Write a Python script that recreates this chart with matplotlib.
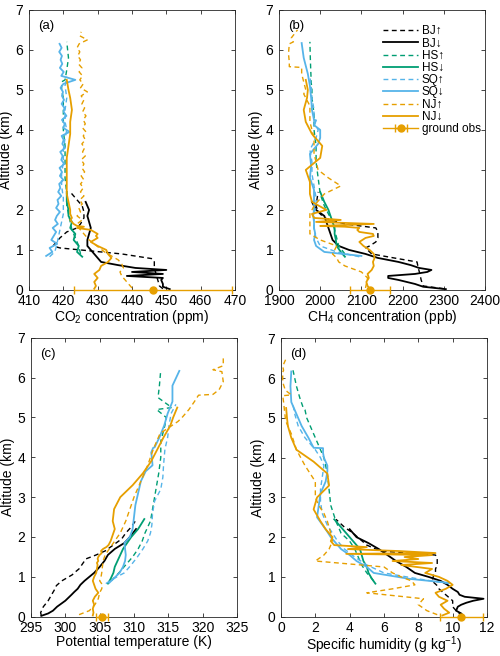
import matplotlib
matplotlib.use("Agg")
from matplotlib import pyplot as plt
import numpy as np

plt.rcParams['font.family'] = ['Liberation Sans', 'DejaVu Sans']
plt.rcParams['mathtext.fontset'] = 'custom'
plt.rcParams['mathtext.rm'] = 'Liberation Sans'
plt.rcParams['mathtext.it'] = 'Liberation Sans:italic'

# ---------------- profiles (altitude in km) ----------------
# BJ ascent (dashed black)
bj_up_alt = [0.03, 0.1, 0.25, 0.4, 0.55, 0.7, 0.78, 0.9, 1.05, 1.1, 1.2, 1.3, 1.45, 1.55, 1.65, 1.8, 1.95, 2.1, 2.25, 2.45]
bj_up_co2 = [449, 448, 447.5, 447, 446.5, 446.5, 446, 437, 419, 417, 418, 419, 421, 424, 425, 426, 426, 425.5, 424, 422]
bj_up_ch4 = [2300, 2250, 2245, 2242, 2238, 2235, 2190, 2125, 2110, 2120, 2135, 2140, 2140, 2135, 2060, 2010, 1995, 1990, 1992, 1995]
bj_up_th = [296.5, 296.4, 296.8, 297.5, 298.0, 298.5, 298.7, 299.5, 301, 301.3, 302, 302.4, 303, 304.5, 305.8, 307, 308.2, 308.8, 309.6, 310.4]
bj_up_q = [10.6, 10.3, 10.0, 10.0, 9.6, 9.2, 9.1, 8.8, 8.9, 9.0, 9.0, 9.1, 9.1, 9.0, 5.8, 5.0, 4.6, 4.2, 3.7, 3.2]

# BJ descent (solid black)
bj_dn_alt = [0.02, 0.08, 0.15, 0.25, 0.3, 0.35, 0.4, 0.45, 0.5, 0.55, 0.62, 0.7, 0.8, 0.9, 1.0, 1.1, 1.25, 1.4, 1.55, 1.7, 1.85, 2.0, 2.2]
bj_dn_co2 = [451, 449, 449, 448.5, 449, 438.5, 449, 440, 450, 441, 436, 431, 430, 429, 428, 427, 427, 427.5, 428, 427.5, 427, 427.5, 426.5]
bj_dn_ch4 = [2305, 2250, 2230, 2190, 2165, 2165, 2230, 2260, 2270, 2240, 2220, 2190, 2140, 2110, 2070, 2045, 2030, 2025, 2020, 2015, 2010, 1990, 1980]
bj_dn_th = [296.5, 297.5, 298.2, 298.8, 299.2, 299.6, 300, 300.3, 300.6, 300.9, 301.3, 301.8, 302.2, 302.8, 303.5, 304.2, 305, 305.7, 306.2, 307.2, 308.6, 309.4, 310.3]
bj_dn_q = [10.6, 10.5, 10.2, 10.3, 10.5, 10.8, 11.2, 11.8, 10.7, 10.4, 10.3, 10.0, 9.7, 9.3, 8.6, 7.8, 7.3, 6.7, 6.2, 5.7, 5.1, 4.4, 4.0]

# HS ascent (dashed green)
hs_up_alt = [0.9, 1.1, 1.3, 1.5, 1.7, 1.9, 2.1, 2.4, 2.8, 3.2, 3.6, 4.0, 4.4, 4.8, 5.0, 5.2, 5.25, 5.5, 5.8, 6.2]
hs_up_co2 = [425, 424.5, 423.5, 422.5, 422, 421.5, 421, 421, 420.5, 420.5, 420.5, 420, 420, 420, 419.5, 419.5, 420.5, 421, 421.5, 421]
hs_up_ch4 = [2060, 2045, 2040, 2035, 2030, 2020, 2010, 2000, 1995, 1990, 1990, 1985, 1985, 1980, 1980, 1978, 1978, 1977, 1976, 1975]
hs_up_th = [306.7, 307.8, 308.8, 309.8, 310.6, 311.2, 311.6, 312.4, 312.8, 313.2, 313.6, 313.9, 313.9, 314.5, 314.7, 313.3, 315.5, 313.5, 313.7, 313.9]
hs_up_q = [5.4, 5.0, 4.7, 4.5, 4.3, 4.0, 3.5, 3.2, 2.9, 2.8, 2.7, 2.5, 2.1, 1.7, 1.5, 1.4, 1.3, 1.1, 0.9, 0.7]

# HS descent (solid green)
hs_dn_alt = [0.83, 0.95, 1.1, 1.25, 1.4, 1.55, 1.7, 1.85, 2.0, 2.2, 2.45]
hs_dn_co2 = [425.5, 424, 424.5, 423, 423.5, 422, 422.5, 421.5, 421.5, 421, 421]
hs_dn_ch4 = [2060, 2050, 2040, 2038, 2035, 2035, 2030, 2025, 2020, 2010, 2000]
hs_dn_th = [306.2, 306.6, 307.0, 307.2, 307.6, 308.0, 308.4, 309.0, 309.6, 310.6, 311.5]
hs_dn_q = [5.5, 5.3, 5.1, 5.0, 4.8, 4.7, 4.6, 4.3, 4.0, 3.6, 3.1]

# SQ ascent (dashed blue)
sq_up_alt = [0.83, 0.95, 1.1, 1.3, 1.5, 1.7, 1.9, 2.1, 2.3, 2.6, 2.9, 3.2, 3.5, 3.8, 4.0, 4.2, 4.5, 4.8, 5.1, 5.33]
sq_up_co2 = [416, 417.5, 418, 418.5, 419, 419.5, 420, 420, 420, 419.5, 419.5, 420, 420, 420.5, 421, 420.5, 420.5, 421, 420.5, 421]
sq_up_ch4 = [2095, 2040, 2000, 1990, 1985, 1985, 1985, 1990, 1990, 1985, 1980, 1980, 1975, 1990, 1995, 1985, 1985, 1980, 1978, 1975]
sq_up_th = [305.9, 307.0, 308.6, 309.6, 310.5, 311.3, 312.0, 312.4, 312.6, 312.7, 313.0, 313.9, 314.2, 314.3, 314.4, 314.5, 314.9, 315.1, 315.4, 316.1]
sq_up_q = [9.8, 8.0, 6.0, 5.0, 4.3, 3.7, 3.3, 3.0, 2.7, 2.4, 2.3, 2.3, 2.4, 2.5, 2.3, 2.0, 1.4, 1.0, 0.8, 0.7]

# SQ descent (solid blue)
sq_dn_alt = [0.85, 0.95, 1.1, 1.25, 1.4, 1.55, 1.7, 1.85, 2.0, 2.2, 2.5, 2.8, 3.1, 3.4, 3.65, 3.8, 4.0, 4.12, 4.24, 4.25, 4.5, 4.8, 5.1, 5.4, 5.8, 6.17]
sq_dn_ch4 = [2100, 2010, 1990, 1985, 1988, 1985, 1985, 1983, 1985, 1985, 1985, 1975, 1978, 1975, 1995, 2000, 2000, 1985, 1990, 1985, 1980, 1978, 1975, 1970, 1960, 1955]
sq_dn_th = [306.4, 307.0, 307.9, 308.4, 308.7, 308.8, 308.7, 308.6, 309.4, 309.8, 310.0, 310.2, 310.6, 311.0, 311.7, 312.7, 312.6, 312.5, 312.8, 313.0, 313.7, 314.4, 314.9, 315.6, 315.6, 316.6]
sq_dn_q = [9.8, 7.5, 5.4, 5.0, 4.4, 4.0, 3.5, 3.2, 2.9, 2.6, 2.1, 2.2, 2.3, 2.6, 2.7, 2.7, 2.5, 2.45, 2.45, 1.9, 1.6, 1.2, 0.9, 0.6, 0.55, 0.6]
# CO2 of the SQ descent is sampled finer (noisy record)
sq_dn_co2_alt = np.round(np.arange(0.85, 6.2, 0.1), 2)
sq_dn_co2 = [415, 416.8, 416.0, 418.2, 416.5, 417.2, 417.9, 416.9, 418.4, 417.6, 418.1, 419.0, 417.9, 418.6,
             418.3, 419.4, 418.5, 419.1, 418.8, 420.0, 419.0, 419.6, 418.9, 420.3, 419.4, 419.8, 419.1, 420.5,
             419.7, 420.1, 419.5, 421.8, 420.0, 420.4, 419.6, 420.9, 420.1, 420.3, 419.5, 420.2, 419.6, 419.9,
             419.2, 420.0, 423.5, 419.4, 420.1, 419.0, 419.7, 419.2, 419.6, 418.8, 419.5, 418.9]

# NJ ascent (dashed orange)
nj_up_alt = [0.05, 0.15, 0.3, 0.45, 0.6, 0.7, 0.8, 0.9, 1.0, 1.1, 1.25, 1.4, 1.55, 1.7, 1.9, 2.1, 2.4, 2.6, 2.8, 3.0, 3.4, 3.8, 4.2, 4.6, 4.9, 5.0, 5.2, 5.4, 5.56, 5.58, 5.7, 5.9, 6.15, 6.2, 6.3, 6.5]
nj_up_ch4 = [2110, 2112, 2115, 2100, 2060, 2045, 2040, 2030, 2035, 2040, 2000, 1975, 1975, 1975, 1975, 1985, 2010, 2050, 2020, 1995, 1985, 1985, 1975, 1975, 1960, 1965, 1960, 1955, 1955, 1925, 1925, 1923, 1925, 1935, 1930, 1945]
nj_up_th = [302, 303.5, 304.3, 304.8, 305.0, 305.3, 305.4, 305.0, 305.2, 305.3, 305.4, 305.5, 305.8, 306.4, 307.2, 308.0, 308.8, 309.2, 309.6, 310.0, 311.0, 312.0, 312.8, 313.8, 316.4, 317.0, 318.0, 318.8, 319.4, 321.5, 322.4, 323.0, 322.8, 321.5, 323.0, 323.0]
nj_up_q = [9.1, 8.5, 8.0, 8.3, 5.0, 6.5, 7.8, 7.6, 7.0, 6.5, 6.0, 2.0, 2.5, 2.8, 3.0, 2.9, 2.7, 2.5, 2.2, 2.0, 2.0, 1.4, 0.9, 0.6, 0.3, 0.25, 0.2, 0.15, 0.1, 0.6, 0.25, 0.1, 0.1, 0.15, 0.1, 0.3]
# CO2 of the NJ ascent, finer sampling
nj_up_co2_alt = np.round(np.arange(0.05, 6.5, 0.1), 2)
nj_up_co2 = [440, 439, 438, 437, 436.5, 437.5, 437, 436, 434, 432, 430.5, 429, 427.5, 426.5, 425.5, 424.5,
             424, 425.5, 424, 425, 424.5, 425.5, 424.8, 426, 425, 425.8, 425, 426, 425.2, 426.2, 425.4, 426,
             425.2, 426.4, 425.6, 426.2, 425.4, 426.4, 425.8, 426.6, 425.6, 426.4, 425.8, 426.6, 425.6, 426.2,
             425.4, 426, 425.2, 427, 425, 425.8, 424.8, 425.6, 424.6, 425.4, 424.4, 425, 424.2, 424.8, 424,
             424.6, 427, 424.8, 425.2]

# NJ descent (solid orange)
nj_dn_alt = [0.03, 0.1, 0.2, 0.3, 0.4, 0.5, 0.6, 0.7, 0.8, 0.9, 1.0, 1.1, 1.2, 1.3, 1.35, 1.4, 1.45, 1.5, 1.55, 1.58, 1.6, 1.65, 1.7, 1.75, 1.8, 1.9, 2.0, 2.2, 2.4, 2.7, 3.0, 3.3, 3.6, 3.9, 4.2, 4.5, 4.8, 5.0, 5.25]
nj_dn_co2 = [429, 429.5, 429, 430, 429, 430.5, 431, 433, 434, 433, 432.5, 430, 428, 430, 429.5, 430, 429, 428, 424, 426, 424, 423, 422.5, 422, 422.5, 422, 422, 421.5, 421, 421, 421, 421, 421.5, 422, 422, 422.5, 422, 421.5, 421]
nj_dn_ch4 = [2120, 2115, 2112, 2118, 2115, 2125, 2130, 2128, 2132, 2130, 2120, 2105, 2095, 2110, 2130, 2128, 2095, 2090, 2095, 2060, 2000, 2130, 1990, 2050, 1985, 1980, 2015, 1980, 1975, 1975, 1965, 2000, 2005, 1980, 1965, 1960, 1968, 1970, 1965]
nj_dn_th = [304.0, 304.1, 304.0, 304.2, 304.0, 304.3, 304.8, 304.4, 304.2, 304.0, 304.2, 304.5, 304.6, 304.7, 304.6, 304.8, 304.7, 304.8, 305.0, 305.2, 305.3, 305.2, 305.5, 306.0, 306.3, 306.6, 306.8, 307.2, 306.9, 307.1, 308.0, 309.8, 311.3, 312.5, 313.4, 314.3, 315.3, 315.7, 316.3]
nj_dn_q = [9.4, 9.8, 9.5, 9.3, 9.7, 9.2, 9.0, 9.6, 10.0, 9.7, 9.2, 8.4, 8.8, 7.0, 8.8, 6.5, 8.0, 7.2, 8.8, 3.8, 9.0, 6.9, 3.9, 5.0, 3.1, 2.9, 3.0, 2.6, 2.3, 1.9, 2.1, 2.8, 2.7, 1.9, 0.9, 0.6, 0.4, 0.35, 0.3]

# ground observations at Nanjing: value, half-width of error bar
obs_co2 = [446, 23]
obs_ch4 = [2121, 48]
obs_th = [305.3, 0.85]
obs_q = [10.5, 1.25]

c_bj = 'black'
c_hs = '#009E73'
c_sq = '#56B4E9'
c_nj = '#E69F00'

# each entry: label, colour, style, [(x, alt) for panels a-d]
series = [
    ('BJ\u2191', c_bj, '--', [(bj_up_co2, bj_up_alt), (bj_up_ch4, bj_up_alt), (bj_up_th, bj_up_alt), (bj_up_q, bj_up_alt)]),
    ('BJ\u2193', c_bj, '-', [(bj_dn_co2, bj_dn_alt), (bj_dn_ch4, bj_dn_alt), (bj_dn_th, bj_dn_alt), (bj_dn_q, bj_dn_alt)]),
    ('HS\u2191', c_hs, '--', [(hs_up_co2, hs_up_alt), (hs_up_ch4, hs_up_alt), (hs_up_th, hs_up_alt), (hs_up_q, hs_up_alt)]),
    ('HS\u2193', c_hs, '-', [(hs_dn_co2, hs_dn_alt), (hs_dn_ch4, hs_dn_alt), (hs_dn_th, hs_dn_alt), (hs_dn_q, hs_dn_alt)]),
    ('SQ\u2191', c_sq, '--', [(sq_up_co2, sq_up_alt), (sq_up_ch4, sq_up_alt), (sq_up_th, sq_up_alt), (sq_up_q, sq_up_alt)]),
    ('SQ\u2193', c_sq, '-', [(sq_dn_co2, sq_dn_co2_alt), (sq_dn_ch4, sq_dn_alt), (sq_dn_th, sq_dn_alt), (sq_dn_q, sq_dn_alt)]),
    ('NJ\u2191', c_nj, '--', [(nj_up_co2, nj_up_co2_alt), (nj_up_ch4, nj_up_alt), (nj_up_th, nj_up_alt), (nj_up_q, nj_up_alt)]),
    ('NJ\u2193', c_nj, '-', [(nj_dn_co2, nj_dn_alt), (nj_dn_ch4, nj_dn_alt), (nj_dn_th, nj_dn_alt), (nj_dn_q, nj_dn_alt)]),
]
obs = [obs_co2, obs_ch4, obs_th, obs_q]

xlims = [(410, 470), (1900, 2400), (295, 325), (0, 12)]
xticks = [np.arange(410, 471, 10), np.arange(1900, 2401, 100), np.arange(295, 326, 5), np.arange(0, 13, 2)]
xlabels = [r'CO$_2$ concentration (ppm)', r'CH$_4$ concentration (ppb)',
           'Potential temperature (K)', r'Specific humidity (g kg$^{-1}$)']
tags = ['(a)', '(b)', '(c)', '(d)']
# axes rectangles [left, bottom, width, height] in figure fraction
rects = [[0.058, 0.558, 0.412, 0.427], [0.558, 0.558, 0.412, 0.427],
         [0.062, 0.06, 0.412, 0.425], [0.562, 0.06, 0.412, 0.424]]

fig = plt.figure(figsize=(5, 6.56), dpi=100)
for k in range(4):
    ax = fig.add_axes(rects[k])
    for name, col, ls, xy in series:
        lw = 1.3 if ls == '-' else 1.0
        ax.plot(xy[k][0], xy[k][1], color=col, ls=ls, lw=lw, label=name,
                dashes=(3.5, 2.5) if ls == '--' else (None, None))
    ax.errorbar(obs[k][0], 0, xerr=obs[k][1], color=c_nj, marker='o', ms=5,
                capsize=3, lw=1.0, label='ground obs', clip_on=False, zorder=5)
    ax.set_xlim(*xlims[k])
    ax.set_ylim(0, 7)
    ax.set_xticks(xticks[k])
    ax.set_yticks(range(0, 8))
    ax.set_xlabel(xlabels[k], fontsize=10, labelpad=0)
    ax.set_ylabel('Altitude (km)', fontsize=10, labelpad=2)
    ax.tick_params(direction='in', top=True, right=True, labelsize=10,
                   length=3, width=0.6, color='#262626')
    ax.tick_params(axis='x', pad=3)
    ax.tick_params(axis='y', pad=4)
    for sp in ax.spines.values():
        sp.set_color('#262626')
        sp.set_linewidth(0.6)
    ax.text(0.045, 0.965, tags[k], transform=ax.transAxes, fontsize=9.5,
            va='top', ha='left')
    if k == 1:
        ax.legend(loc='upper left', bbox_to_anchor=(0.505, 0.945), frameon=False,
                  fontsize=8.5, handlelength=3.0, handletextpad=0.3,
                  labelspacing=0.02, borderpad=0, borderaxespad=0)

fig.savefig('out.png', dpi=100)
